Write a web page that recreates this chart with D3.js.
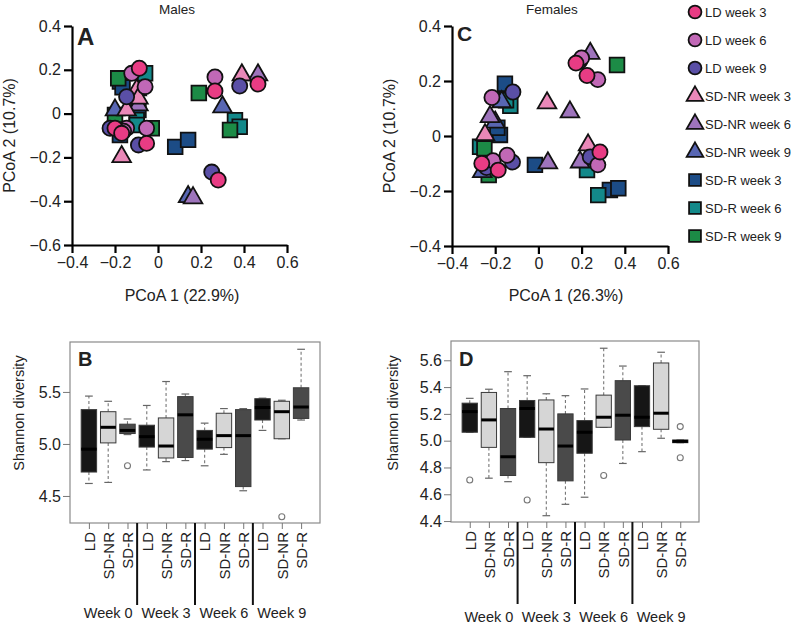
<!DOCTYPE html>
<html>
<head>
<meta charset="utf-8">
<script src="https://cdn.jsdelivr.net/npm/d3@7/dist/d3.min.js"></script>
<style>
body{margin:0;background:#fff;}
svg text{font-family:"Liberation Sans",Arial,Helvetica,sans-serif;fill:#222;}
</style>
</head>
<body>
<svg id="chart" width="793" height="626"></svg>
<script>
// ---------------- DATA ----------------
const groupNames = ["LD week 3","LD week 6","LD week 9","SD-NR week 3","SD-NR week 6","SD-NR week 9","SD-R week 3","SD-R week 6","SD-R week 9"];
const groupColors = ["#e83c84","#c168b6","#5a4fa6","#ea88b8","#9e74bc","#5866b3","#1c4c86","#13898a","#1c8b46"];
const groupShapes = ["circle","circle","circle","triangle","triangle","triangle","square","square","square"];

// Males PCoA (panel A): [x, y] per group
const malesLD3 = [[0.265,0.103],[0.465,0.135],[0.28,-0.303],[-0.087,0.207],[-0.2,-0.067],[-0.169,-0.09],[-0.053,-0.136]];
const malesLD6 = [[0.265,0.167],[-0.122,0.184],[-0.06,0.123],[-0.146,-0.067],[-0.053,-0.067],[-0.16,-0.08]];
const malesLD9 = [[0.38,0.126],[0.25,-0.267],[-0.146,0.077],[-0.223,-0.067],[-0.091,-0.143]];
const malesNR3 = [[0.39,0.176],[-0.099,0.108],[-0.146,0.016],[-0.169,-0.197],[-0.091,0.07]];
const malesNR6 = [[0.465,0.176],[0.163,-0.385],[-0.091,0.039]];
const malesNR9 = [[0.30,0.03],[0.14,-0.38],[-0.2,0.016]];
const malesR3 = [[0.08,-0.152],[0.14,-0.12],[-0.177,0.146],[-0.165,0.12],[-0.091,0.016],[-0.177,-0.098]];
const malesR6 = [[0.358,-0.03],[0.38,-0.06],[-0.06,0.184],[-0.099,-0.029],[-0.099,-0.052]];
const malesR9 = [[0.19,0.094],[0.335,-0.075],[-0.2,-0.006],[-0.029,-0.067],[-0.185,0.161]];

// Females PCoA (panel C)
const femalesLD3 = [[0.174,0.265],[0.225,0.22],[-0.262,-0.1],[-0.186,-0.124],[0.285,-0.058]];
const femalesLD6 = [[0.2,0.284],[0.275,0.205],[-0.215,0.14],[-0.21,-0.09],[-0.145,-0.07],[0.275,-0.105]];
const femalesLD9 = [[0.19,0.272],[-0.118,0.16],[-0.24,-0.115],[-0.12,-0.095],[0.24,-0.076]];
const femalesNR3 = [[0.04,0.12],[-0.247,0.004],[0.23,-0.033]];
const femalesNR6 = [[0.24,0.30],[0.146,0.087],[-0.224,0.07],[0.044,-0.098],[0.193,-0.095]];
const femalesNR9 = [[-0.17,0.124],[-0.2,0.05],[-0.26,-0.13]];
const femalesR3 = [[-0.155,0.19],[-0.178,0.004],[-0.016,-0.105],[0.331,-0.196],[0.37,-0.19],[-0.19,0.03]];
const femalesR6 = [[-0.13,0.11],[-0.27,-0.039],[0.225,-0.124],[0.277,-0.215],[-0.15,0.13]];
const femalesR9 = [[0.364,0.258],[-0.25,-0.045],[-0.23,-0.142]];

const malesData = [malesLD3,malesLD6,malesLD9,malesNR3,malesNR6,malesNR9,malesR3,malesR6,malesR9];
const femalesData = [femalesLD3,femalesLD6,femalesLD9,femalesNR3,femalesNR6,femalesNR9,femalesR3,femalesR6,femalesR9];

const scatterXTicks = [-0.4,-0.2,0,0.2,0.4,0.6];
const malesYTicks = [-0.6,-0.4,-0.2,0,0.2,0.4];
const femalesYTicks = [-0.4,-0.2,0,0.2,0.4];

// Box plots: order LD, SD-NR, SD-R for weeks 0,3,6,9
const boxTreat = ["LD","SD-NR","SD-R","LD","SD-NR","SD-R","LD","SD-NR","SD-R","LD","SD-NR","SD-R"];
const weekLabels = ["Week 0","Week 3","Week 6","Week 9"];
const treatFill = {"LD":"#161616","SD-NR":"#d6d6d6","SD-R":"#4a4a4a"};

const bHigh = [5.46,5.41,5.24,5.37,5.60,5.48,5.20,5.34,5.34,5.44,5.42,5.91];
const bQ3   = [5.33,5.31,5.19,5.18,5.25,5.455,5.13,5.295,5.33,5.435,5.41,5.54];
const bMed  = [4.95,5.16,5.13,5.07,4.98,5.28,5.045,5.08,5.08,5.35,5.31,5.355];
const bQ1   = [4.73,5.01,5.10,4.97,4.865,4.87,4.95,4.965,4.59,5.23,5.05,5.245];
const bLow  = [4.62,4.63,5.09,4.75,4.83,4.84,4.79,4.90,4.55,5.13,5.05,5.23];
const bOut  = [[],[],[4.79],[],[],[],[],[],[],[],[4.30],[]];
const bTicks = [4.5,5.0,5.5];

const dHigh = [5.316,5.384,5.515,5.485,5.35,5.336,5.386,5.69,5.557,5.41,5.66,5.005];
const dQ3   = [5.28,5.36,5.24,5.30,5.304,5.20,5.15,5.34,5.448,5.41,5.58,5.005];
const dMed  = [5.217,5.155,4.88,5.24,5.087,4.96,5.063,5.175,5.19,5.175,5.205,4.995];
const dQ1   = [5.063,4.95,4.74,5.025,4.836,4.70,4.906,5.10,5.005,5.105,5.085,4.985];
const dLow  = [5.063,4.72,4.694,5.025,4.44,4.525,4.578,5.10,4.83,4.918,5.018,4.985];
const dOut  = [[4.707],[],[],[4.557],[],[],[],[4.74],[],[],[],[5.105,4.873]];
const dTicks = [4.4,4.6,4.8,5.0,5.2,5.4,5.6];

// ---------------- DRAW ----------------
const svg = d3.select("#chart");
const FONT = '"Liberation Sans",Arial,Helvetica,sans-serif';
const shapeMap = {circle:d3.symbolCircle, square:d3.symbolSquare, triangle:d3.symbolTriangle};
const shapeSize = {circle:180, square:215, triangle:150};
const fmt = d => d === 0 ? "0" : d3.format(".1f")(d);

function scatterPanel(cfg){
  const g = svg.append("g");
  const x = d3.scaleLinear().domain([-0.4,0.6]).range([cfg.x0,cfg.x1]);
  const y = d3.scaleLinear().domain(cfg.yDomain).range([cfg.y0,cfg.y1]);
  // points: squares first, triangles, then circles
  const order = [6,7,8,5,4,3,2,1,0];
  order.forEach(gi => {
    g.append("g").selectAll("path").data(cfg.data[gi]).join("path")
      .attr("transform", d => `translate(${x(d[0])},${y(d[1])})`)
      .attr("d", d3.symbol().type(shapeMap[groupShapes[gi]]).size(shapeSize[groupShapes[gi]]))
      .attr("fill", groupColors[gi]).attr("stroke","#111").attr("stroke-width",1.8);
  });
  const ax = g.append("g").attr("transform",`translate(0,${cfg.y0})`)
    .call(d3.axisBottom(x).tickValues(scatterXTicks).tickFormat(fmt).tickSize(8).tickSizeOuter(0).tickPadding(4));
  const ay = g.append("g").attr("transform",`translate(${cfg.x0},0)`)
    .call(d3.axisLeft(y).tickValues(cfg.yTicks).tickFormat(fmt).tickSize(8).tickSizeOuter(0).tickPadding(3));
  [ax,ay].forEach(a => {
    a.select(".domain").attr("stroke","#000").attr("stroke-width",2.2);
    a.selectAll(".tick line").attr("stroke","#000").attr("stroke-width",2.2);
    a.selectAll(".tick text").attr("font-size",16).attr("font-family",FONT).attr("fill","#333");
  });
  g.append("text").attr("x",cfg.titleX).attr("y",14).attr("text-anchor","middle").attr("font-size",13.5).text(cfg.title);
  g.append("text").attr("x",cfg.xLabX).attr("y",301).attr("text-anchor","middle").attr("font-size",16).attr("fill","#333").text(cfg.xLab);
  g.append("text").attr("transform",`translate(${cfg.yLabX},${(cfg.y0+cfg.y1)/2}) rotate(-90)`)
    .attr("text-anchor","middle").attr("font-size",16).attr("fill","#333").text("PCoA 2 (10.7%)");
  g.append("text").attr("x",cfg.x0+5).attr("y",cfg.letterY).attr("font-size",cfg.letterSize).attr("font-weight","bold").attr("fill","#222").text(cfg.letter);
}

scatterPanel({x0:72,x1:287,y0:245,y1:26,yDomain:[-0.6,0.4],yTicks:malesYTicks,data:malesData,
  title:"Males",titleX:177,xLab:"PCoA 1 (22.9%)",xLabX:182,yLabX:15,letter:"A",letterY:45,letterSize:24});
scatterPanel({x0:452,x1:668,y0:246,y1:26,yDomain:[-0.4,0.4],yTicks:femalesYTicks,data:femalesData,
  title:"Females",titleX:552,xLab:"PCoA 1 (26.3%)",xLabX:566,yLabX:395,letter:"C",letterY:41,letterSize:21});

// legend
const lg = svg.append("g");
groupNames.forEach((name,i) => {
  const yy = 12 + i*28;
  lg.append("path").attr("transform",`translate(695,${yy})`)
    .attr("d", d3.symbol().type(shapeMap[groupShapes[i]]).size(groupShapes[i]==="triangle"?120:(groupShapes[i]==="square"?140:130)))
    .attr("fill",groupColors[i]).attr("stroke","#111").attr("stroke-width",1.8);
  lg.append("text").attr("x",705).attr("y",yy+4.5).attr("font-size",13).attr("fill","#333").text(name);
});

function boxPanel(cfg){
  const g = svg.append("g");
  const x = d3.scaleLinear().domain([0.02,12.98]).range([cfg.x0,cfg.x1]);
  const y = d3.scaleLinear().domain(cfg.yDomain).range([cfg.y1,cfg.y0]);
  const unit = x(2)-x(1);
  const bw = unit*0.8, cw = bw*0.5;
  const idx = d3.range(12);
  // frame
  g.append("rect").attr("x",cfg.x0).attr("y",cfg.y0).attr("width",cfg.x1-cfg.x0).attr("height",cfg.y1-cfg.y0)
    .attr("fill","none").attr("stroke","#8a8a8a").attr("stroke-width",1.2);
  const boxes = g.selectAll("g.box").data(idx).join("g").attr("class","box");
  // whiskers
  boxes.append("line").attr("x1",i=>x(i+1)).attr("x2",i=>x(i+1)).attr("y1",i=>y(cfg.q3[i])).attr("y2",i=>y(cfg.hi[i]))
    .attr("stroke","#777").attr("stroke-dasharray","3,2.5").attr("stroke-width",1.1);
  boxes.append("line").attr("x1",i=>x(i+1)).attr("x2",i=>x(i+1)).attr("y1",i=>y(cfg.q1[i])).attr("y2",i=>y(cfg.lo[i]))
    .attr("stroke","#777").attr("stroke-dasharray","3,2.5").attr("stroke-width",1.1);
  boxes.append("line").attr("x1",i=>x(i+1)-cw/2).attr("x2",i=>x(i+1)+cw/2).attr("y1",i=>y(cfg.hi[i])).attr("y2",i=>y(cfg.hi[i]))
    .attr("stroke","#666").attr("stroke-width",1.2);
  boxes.append("line").attr("x1",i=>x(i+1)-cw/2).attr("x2",i=>x(i+1)+cw/2).attr("y1",i=>y(cfg.lo[i])).attr("y2",i=>y(cfg.lo[i]))
    .attr("stroke","#666").attr("stroke-width",1.2);
  boxes.append("rect").attr("x",i=>x(i+1)-bw/2).attr("width",bw)
    .attr("y",i=>y(cfg.q3[i])).attr("height",i=>Math.max(1,y(cfg.q1[i])-y(cfg.q3[i])))
    .attr("fill",i=>treatFill[boxTreat[i]]).attr("stroke","#3a3a3a").attr("stroke-width",1);
  boxes.append("line").attr("x1",i=>x(i+1)-bw/2).attr("x2",i=>x(i+1)+bw/2).attr("y1",i=>y(cfg.med[i])).attr("y2",i=>y(cfg.med[i]))
    .attr("stroke","#000").attr("stroke-width",3);
  boxes.each(function(i){
    d3.select(this).selectAll("circle").data(cfg.out[i]).join("circle")
      .attr("cx",x(i+1)).attr("cy",d=>y(d)).attr("r",3).attr("fill","none").attr("stroke","#777").attr("stroke-width",1.1);
  });
  // y axis
  const ay = g.append("g").attr("transform",`translate(${cfg.x0},0)`)
    .call(d3.axisLeft(y).tickValues(cfg.ticks).tickFormat(d3.format(".1f")).tickSize(7).tickSizeOuter(0).tickPadding(2));
  ay.select(".domain").remove();
  ay.selectAll(".tick line").attr("stroke","#777");
  ay.selectAll(".tick text").attr("font-size",16).attr("font-family",FONT).attr("fill","#333");
  // bottom ticks & category labels
  const ax = g.append("g").attr("transform",`translate(0,${cfg.y1})`)
    .call(d3.axisBottom(x).tickValues(idx.map(i=>i+1)).tickFormat(i=>boxTreat[i-1]).tickSize(6).tickSizeOuter(0).tickPadding(3));
  ax.select(".domain").remove();
  ax.selectAll(".tick line").attr("stroke","#777");
  ax.selectAll(".tick text").attr("font-size",15).attr("font-family",FONT).attr("fill","#333")
    .attr("transform","rotate(-90)").attr("text-anchor","end").attr("dy","0.35em").attr("x",-9).attr("y",0);
  // separators
  [3.5,6.5,9.5].forEach(p => {
    g.append("line").attr("x1",x(p)).attr("x2",x(p)).attr("y1",cfg.y1).attr("y2",cfg.y1+82)
      .attr("stroke","#111").attr("stroke-width",2);
  });
  weekLabels.forEach((w,k) => {
    g.append("text").attr("x",x(k*3+2)).attr("y",cfg.weekY).attr("text-anchor","middle").attr("font-size",14.5).attr("fill","#333").text(w);
  });
  g.append("text").attr("transform",`translate(${cfg.yLabX},413) rotate(-90)`).attr("text-anchor","middle")
    .attr("font-size",14.5).attr("fill","#333").text("Shannon diversity");
  g.append("text").attr("x",cfg.x0+8).attr("y",366).attr("font-size",20).attr("font-weight","bold").attr("fill","#222").text(cfg.letter);
}

boxPanel({x0:70,x1:320,y0:342,y1:523,yDomain:[4.24,5.98],ticks:bTicks,hi:bHigh,q3:bQ3,med:bMed,q1:bQ1,lo:bLow,out:bOut,
  weekY:618,yLabX:24,letter:"B"});
boxPanel({x0:451,x1:699,y0:341,y1:522,yDomain:[4.393,5.744],ticks:dTicks,hi:dHigh,q3:dQ3,med:dMed,q1:dQ1,lo:dLow,out:dOut,
  weekY:622,yLabX:398,letter:"D"});
</script>
</body>
</html>
